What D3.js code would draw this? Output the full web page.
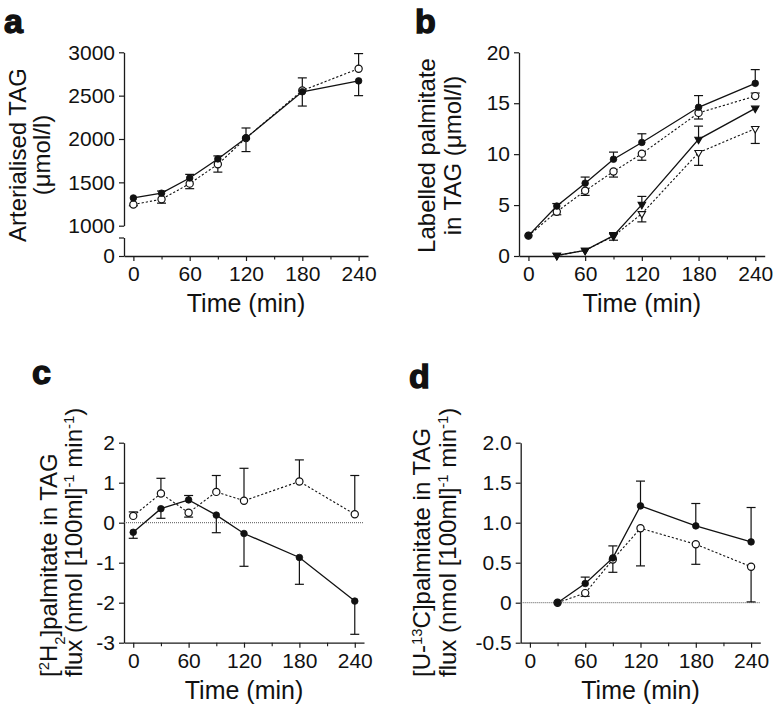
<!DOCTYPE html>
<html><head><meta charset="utf-8">
<script src="https://cdn.jsdelivr.net/npm/d3@7"></script>
<style>
body{margin:0;background:#fff}
svg{display:block}
text{font-family:"Liberation Sans",Arial,Helvetica,sans-serif;fill:#111}
</style>
</head><body>
<svg id="chart" width="776" height="708"></svg>
<script>
// ---------- data ----------
const times = [0, 30, 60, 90, 120, 180, 240];
const timesLate = [30, 60, 90, 120, 180, 240];
const xTickValues = [0, 60, 120, 180, 240];
const xMinorTicks = [30, 90, 150, 210];

// panel a: arterialised TAG (µmol/l)
const aTicks = [1000, 1500, 2000, 2500, 3000];
const aFilled = [1320, 1375, 1550, 1770, 2012, 2545, 2670];
const aFilledErr = [0, 25, 42, 35, 115, -165, -170];
const aOpen = [1245, 1305, 1485, 1708, 2010, 2560, 2810];
const aOpenErr = [-15, -45, -58, -90, -155, 145, 175];

// panel b: labelled palmitate in TAG (µmol/l)
const bTicks = [0, 5, 10, 15, 20];
const bFilledCircle = [2.0, 4.9, 7.15, 9.5, 11.15, 14.6, 16.95];
const bFilledCircleErr = [0, 0.25, 0.6, 0.7, 0.85, 1.15, 1.35];
const bOpenCircle = [2.0, 4.35, 6.4, 8.3, 10.05, 14.05, 15.7];
const bOpenCircleErr = [0, -0.3, -0.45, -0.55, -0.65, -0.6, 0.3];
const bFilledTri = [0.05, 0.55, 2.0, 5.05, 11.45, 14.5];
const bFilledTriErr = [0, 0, 0.3, 0.8, 1.3, 0];
const bOpenTri = [0.05, 0.55, 1.95, 4.15, 10.15, 12.5];
const bOpenTriErr = [0, 0, -0.4, -0.8, -1.25, -1.45];

// panel c: [2H2]palmitate in TAG flux
const cTicks = [-3, -2, -1, 0, 1, 2];
const cFilled = [-0.24, 0.35, 0.57, 0.19, -0.27, -0.87, -1.96];
const cFilledErr = [-0.15, -0.24, 0.11, -0.44, -0.82, -0.67, -0.83];
const cOpen = [0.17, 0.73, 0.25, 0.77, 0.55, 1.03, 0.21];
const cOpenErr = [0.1, 0.38, -0.11, 0.41, 0.81, 0.54, 0.97];

// panel d: [U-13C]palmitate in TAG flux
const dTicks = [-0.5, 0, 0.5, 1.0, 1.5, 2.0];
const dTickLabels = ["-0.5", "0", "0.5", "1.0", "1.5", "2.0"];
const dFilled = [0, 0.24, 0.56, 1.21, 0.96, 0.76];
const dFilledErr = [0, 0.08, 0.15, 0.31, 0.28, 0.43];
const dOpen = [0, 0.12, 0.54, 0.93, 0.73, 0.45];
const dOpenErr = [0, -0.04, -0.16, -0.47, -0.25, -0.44];

// ---------- drawing ----------
const svg = d3.select("#chart");
const AX = "#1a1a1a";
const TICK_FS = 21, TITLE_FS = 24, XTITLE_FS = 25;

function zip(ts, vs, es) { return ts.map((t, i) => ({t, v: vs[i], e: es[i]})); }

function styleAxis(g, fs) {
  g.selectAll("path.domain").attr("stroke", AX).attr("stroke-width", 1.3);
  g.selectAll(".tick line").attr("stroke", AX).attr("stroke-width", 1.2);
  g.selectAll(".tick text").attr("font-size", fs).attr("fill", "#111")
    .attr("font-family", '"Liberation Sans",Arial,Helvetica,sans-serif');
}

function xAxis(x, yPos) {
  const g = svg.append("g").attr("transform", `translate(0,${yPos})`)
    .call(d3.axisBottom(x).tickValues(xTickValues).tickFormat(d => String(d))
      .tickSize(5).tickSizeOuter(0).tickPadding(5));
  styleAxis(g, TICK_FS);
  const m = svg.append("g").attr("transform", `translate(0,${yPos})`)
    .call(d3.axisBottom(x).tickValues(xMinorTicks).tickSize(3.5).tickFormat(""));
  m.select("path.domain").remove();
  m.selectAll(".tick line").attr("stroke", AX).attr("stroke-width", 1.1);
  svg.append("text").attr("x", (x.range()[0] + x.range()[1]) / 2).attr("y", yPos + 56)
    .attr("text-anchor", "middle").attr("font-size", XTITLE_FS).text("Time (min)");
}

function yAxis(y, xPos, ticks, labels) {
  const ax = d3.axisLeft(y).tickValues(ticks).tickSize(5).tickSizeOuter(0).tickPadding(4)
    .tickFormat((d, i) => labels ? labels[i] : String(d));
  const g = svg.append("g").attr("transform", `translate(${xPos},0)`).call(ax);
  styleAxis(g, TICK_FS);
  return g;
}

function series(x, y, data, filled, dashed, shape) {
  const g = svg.append("g");
  g.append("path").datum(data)
    .attr("d", d3.line().x(d => x(d.t)).y(d => y(d.v)))
    .attr("fill", "none").attr("stroke", "#111")
    .attr("stroke-width", dashed ? 1.1 : 1.3)
    .attr("stroke-dasharray", dashed ? "2.2,2" : null);
  const eb = g.selectAll("g.eb").data(data.filter(d => d.e !== 0)).join("g");
  eb.append("line").attr("x1", d => x(d.t)).attr("x2", d => x(d.t))
    .attr("y1", d => y(d.v)).attr("y2", d => y(d.v + d.e))
    .attr("stroke", "#111").attr("stroke-width", 1.2);
  eb.append("line").attr("x1", d => x(d.t) - 4.5).attr("x2", d => x(d.t) + 4.5)
    .attr("y1", d => y(d.v + d.e)).attr("y2", d => y(d.v + d.e))
    .attr("stroke", "#111").attr("stroke-width", 1.2);
  if (shape === "tri") {
    g.selectAll("path.m").data(data).join("path")
      .attr("d", d3.symbol().type(d3.symbolTriangle).size(24))
      .attr("transform", d => `translate(${x(d.t)},${y(d.v)}) rotate(180)`)
      .attr("fill", filled ? "#111" : "#fff").attr("stroke", "#111").attr("stroke-width", 1.1);
  } else {
    g.selectAll("circle").data(data).join("circle")
      .attr("cx", d => x(d.t)).attr("cy", d => y(d.v))
      .attr("r", filled ? 3.3 : 3.6)
      .attr("fill", filled ? "#111" : "#fff").attr("stroke", "#111").attr("stroke-width", filled ? 0.8 : 1.2);
  }
}

function zeroLine(x, y) {
  svg.append("line").attr("x1", x.range()[0]).attr("x2", x.range()[1])
    .attr("y1", y(0)).attr("y2", y(0))
    .attr("stroke", "#555").attr("stroke-width", 1).attr("stroke-dasharray", "1,1");
}

function panelLetter(t, px, py) {
  svg.append("text").attr("x", px).attr("y", py).attr("font-size", 34)
    .attr("font-weight", "bold").attr("stroke", "#111").attr("stroke-width", 1.4).text(t);
}

function yTitle(lines, px, py, anchor) {
  lines.forEach((parts, i) => {
    const t = svg.append("text").attr("transform", `translate(${px[i]},${py}) rotate(-90)`)
      .attr("text-anchor", anchor).attr("font-size", TITLE_FS);
    parts.forEach(p => {
      const s = t.append("tspan").text(p.s);
      if (p.sup) s.attr("font-size", "62%").attr("baseline-shift", "super");
      if (p.sub) s.attr("font-size", "62%").attr("baseline-shift", "sub");
    });
  });
}

// ---- panel a ----
const xA = d3.scaleLinear().domain([-10, 250]).range([124, 368]);
const yA = d3.scaleLinear().domain([1000, 3000]).range([225.7, 52.3]);
const yALow = d3.scaleLinear().domain([0, 200]).range([256, 237.5]);
yAxis(yA, 124, aTicks);
yAxis(yALow, 124, [0, 200], ["0", ""]);
xAxis(xA, 256);
series(xA, yA, zip(times, aOpen, aOpenErr), false, true, "circle");
series(xA, yA, zip(times, aFilled, aFilledErr), true, false, "circle");
panelLetter("a", 4, 33);
yTitle([[{s: "Arterialised TAG"}], [{s: "(\u03bcmol/l)"}]], [26, 50], 155, "middle");

// ---- panel b ----
const xB = d3.scaleLinear().domain([-10, 250]).range([519, 764.7]);
const yB = d3.scaleLinear().domain([0, 20]).range([256, 52.3]);
yAxis(yB, 519, bTicks);
xAxis(xB, 256);
series(xB, yB, zip(timesLate, bOpenTri, bOpenTriErr), false, true, "tri");
series(xB, yB, zip(timesLate, bFilledTri, bFilledTriErr), true, false, "tri");
series(xB, yB, zip(times, bOpenCircle, bOpenCircleErr), false, true, "circle");
series(xB, yB, zip(times, bFilledCircle, bFilledCircleErr), true, false, "circle");
panelLetter("b", 415, 33);
yTitle([[{s: "Labelled palmitate"}], [{s: "in TAG (\u03bcmol/l)"}]], [435, 461], 155.5, "middle");

// ---- panel c ----
const xC = d3.scaleLinear().domain([-10, 250]).range([124, 364]);
const yC = d3.scaleLinear().domain([-3, 2]).range([642.7, 442.7]);
yAxis(yC, 124, cTicks);
xAxis(xC, 642.7);
zeroLine(xC, yC);
series(xC, yC, zip(times, cOpen, cOpenErr), false, true, "circle");
series(xC, yC, zip(times, cFilled, cFilledErr), true, false, "circle");
panelLetter("c", 32, 384);
yTitle([
  [{s: "["}, {s: "2", sup: true}, {s: "H"}, {s: "2", sub: true}, {s: "]palmitate in TAG"}],
  [{s: "flux (nmol [100ml]"}, {s: "-1", sup: true}, {s: " min"}, {s: "-1", sup: true}, {s: ")"}]
], [57, 82], 677, "start");

// ---- panel d ----
const xD = d3.scaleLinear().domain([-10, 250]).range([520.7, 760.3]);
const yD = d3.scaleLinear().domain([-0.5, 2]).range([642.7, 442.7]);
yAxis(yD, 520.7, dTicks, dTickLabels);
xAxis(xD, 642.7);
zeroLine(xD, yD);
series(xD, yD, zip(timesLate, dOpen, dOpenErr), false, true, "circle");
series(xD, yD, zip(timesLate, dFilled, dFilledErr), true, false, "circle");
panelLetter("d", 409, 388);
yTitle([
  [{s: "[U-"}, {s: "13", sup: true}, {s: "C]palmitate in TAG"}],
  [{s: "flux (nmol [100ml]"}, {s: "-1", sup: true}, {s: " min"}, {s: "-1", sup: true}, {s: ")"}]
], [430, 456], 677, "start");
</script>
</body></html>
